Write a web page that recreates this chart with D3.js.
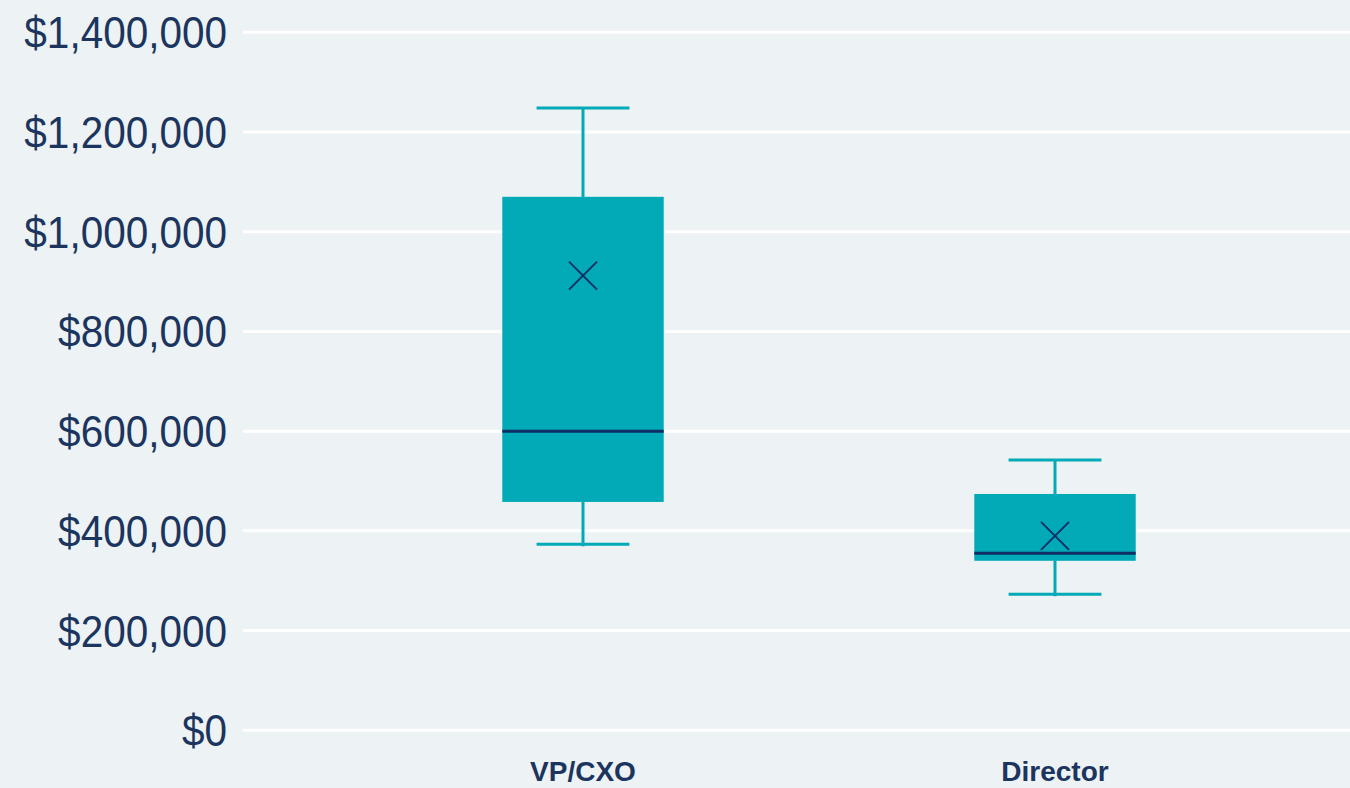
<!DOCTYPE html>
<html>
<head>
<meta charset="utf-8">
<script src="https://cdn.jsdelivr.net/npm/d3@7"></script>
<style>
  html, body { margin: 0; padding: 0; background: #edf2f5; overflow: hidden; }
</style>
</head>
<body>
<div id="canvas"></div>
<script>
// Chart data

let categories = ["VP/CXO", "Director"];
let whiskerLow = [373000, 273000];
let q1 = [458000, 340000];
let median = [600000, 355000];
let q3 = [1070000, 474000];
let whiskerHigh = [1248000, 542000];
let mean = [912000, 390000];
let yTicks = [0, 200000, 400000, 600000, 800000, 1000000, 1200000, 1400000];

// Setting dimensions

let W = 1350;
let H = 788;

let boxColor = "#02a9b6";
let navy = "#0f2f66";
let textColor = "#1b355f";

// Drawing plotting area

let svg = d3.select("#canvas")
    .append("svg")
    .attr("width", W)
    .attr("height", H)
    .style("background-color", "#edf2f5");

// Defining the scales

let yScale = d3.scaleLinear()
    .domain([0, 1400000])
    .range([730.3, 32.3]);

let xScale = d3.scaleBand()
    .domain(categories)
    .range([347, 1291]);

let boxW = xScale.step() * 0.342;
let capW = boxW * 0.575;
let cx = (i) => xScale(categories[i]) + xScale.bandwidth() / 2;

// Gridlines and y labels

svg.append("g")
    .selectAll("line")
    .data(yTicks)
    .join("line")
    .attr("x1", 243)
    .attr("x2", W)
    .attr("y1", (d) => yScale(d))
    .attr("y2", (d) => yScale(d))
    .style("stroke", "#ffffff")
    .style("stroke-width", 3);

// labels are a little taller than wide in the original
svg.append("g")
    .selectAll("text")
    .data(yTicks)
    .join("text")
    .attr("transform", (d) => "translate(227," + (yScale(d) + 16) + ") scale(1,1.1)")
    .style("font-family", "'Liberation Sans', Arial, sans-serif")
    .style("font-size", "40.5px")
    .style("text-anchor", "end")
    .style("fill", textColor)
    .text((d) => "$" + d3.format(",")(d));

// Boxes

let idx = d3.range(categories.length);
let g = svg.append("g");

// whiskers
g.selectAll(".whisker")
    .data(idx)
    .join("line")
    .attr("x1", (i) => cx(i))
    .attr("x2", (i) => cx(i))
    .attr("y1", (i) => yScale(whiskerHigh[i]))
    .attr("y2", (i) => yScale(whiskerLow[i]) + 2)
    .style("stroke", boxColor)
    .style("stroke-width", 3);

g.selectAll(".capHigh")
    .data(idx)
    .join("line")
    .attr("x1", (i) => cx(i) - capW / 2)
    .attr("x2", (i) => cx(i) + capW / 2)
    .attr("y1", (i) => yScale(whiskerHigh[i]))
    .attr("y2", (i) => yScale(whiskerHigh[i]))
    .style("stroke", boxColor)
    .style("stroke-width", 3);

g.selectAll(".capLow")
    .data(idx)
    .join("line")
    .attr("x1", (i) => cx(i) - capW / 2)
    .attr("x2", (i) => cx(i) + capW / 2)
    .attr("y1", (i) => yScale(whiskerLow[i]))
    .attr("y2", (i) => yScale(whiskerLow[i]))
    .style("stroke", boxColor)
    .style("stroke-width", 3);

// box
g.selectAll("rect")
    .data(idx)
    .join("rect")
    .attr("x", (i) => cx(i) - boxW / 2)
    .attr("width", boxW)
    .attr("y", (i) => yScale(q3[i]))
    .attr("height", (i) => yScale(q1[i]) - yScale(q3[i]))
    .style("fill", boxColor);

// median
g.selectAll(".median")
    .data(idx)
    .join("line")
    .attr("x1", (i) => cx(i) - boxW / 2)
    .attr("x2", (i) => cx(i) + boxW / 2)
    .attr("y1", (i) => yScale(median[i]))
    .attr("y2", (i) => yScale(median[i]))
    .style("stroke", navy)
    .style("stroke-width", 3);

// mean marker (x)
let m = 14;
g.selectAll(".mean")
    .data(idx)
    .join("path")
    .attr("d", (i) => {
        let x = cx(i), y = yScale(mean[i]);
        return "M" + (x - m) + "," + (y - m) + "L" + (x + m) + "," + (y + m) +
            "M" + (x - m) + "," + (y + m) + "L" + (x + m) + "," + (y - m);
    })
    .style("stroke", navy)
    .style("stroke-width", 2)
    .style("fill", "none");

// Category labels

svg.append("g")
    .selectAll("text")
    .data(categories)
    .join("text")
    .attr("x", (d, i) => cx(i))
    .attr("y", 781)
    .style("font-family", "'Liberation Sans', Arial, sans-serif")
    .style("font-size", "28px")
    .style("font-weight", 700)
    .style("text-anchor", "middle")
    .style("fill", textColor)
    .text((d) => d);
</script>
</body>
</html>
